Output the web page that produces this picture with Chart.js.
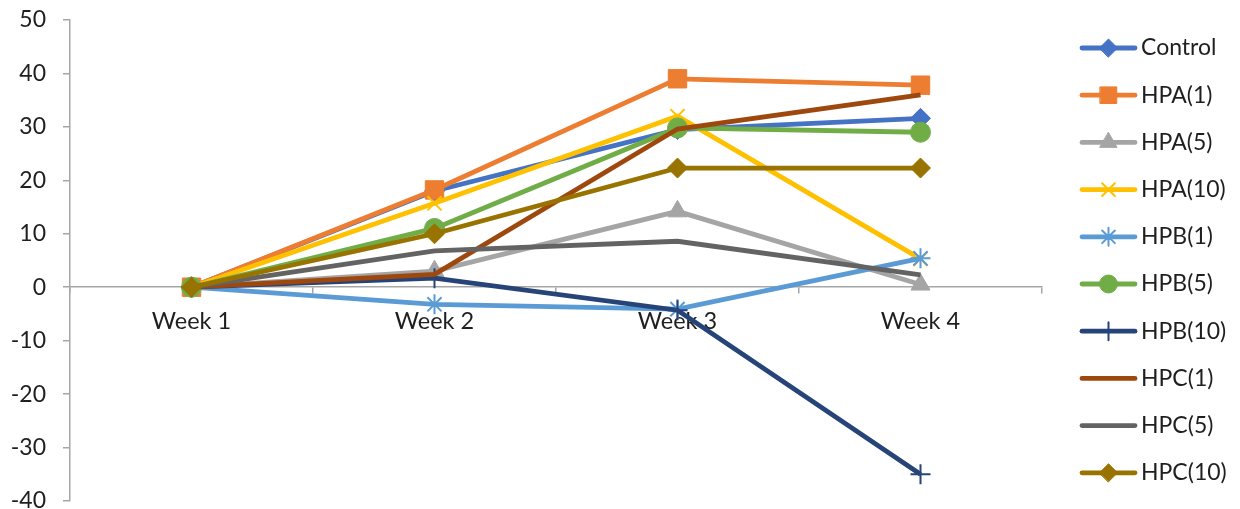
<!DOCTYPE html>
<html>
<head>
<meta charset="utf-8">
<script src="https://cdn.jsdelivr.net/npm/chart.js@4.4.1/dist/chart.umd.min.js"></script>
<style>
  html, body { margin: 0; padding: 0; background: #ffffff; }
  #wrap { width: 1240px; height: 509px; position: relative; }
</style>
</head>
<body>
<div id="wrap"><canvas id="c"></canvas></div>
<script>
const categories = ['Week 1', 'Week 2', 'Week 3', 'Week 4'];
const yTicks = [50, 40, 30, 20, 10, 0, -10, -20, -30, -40];

const seriesNames = ['Control', 'HPA(1)', 'HPA(5)', 'HPA(10)', 'HPB(1)', 'HPB(5)', 'HPB(10)', 'HPC(1)', 'HPC(5)', 'HPC(10)'];

const control = [0, 18, 29.5, 31.6];
const hpa1    = [0, 18.2, 39, 37.8];
const hpa5    = [0, 3, 14.2, 0.5];
const hpa10   = [0, 15.7, 32, 5.3];
const hpb1    = [0, -3.2, -4.1, 5.4];
const hpb5    = [0, 11, 29.8, 29];
const hpb10   = [0, 1.7, -4.3, -35];
const hpc1    = [0, 2.4, 29.6, 36];
const hpc5    = [0, 6.8, 8.6, 2.3];
const hpc10   = [0, 10, 22.3, 22.3];

const seriesValues = [control, hpa1, hpa5, hpa10, hpb1, hpb5, hpb10, hpc1, hpc5, hpc10];

const colors = ['#4472C4', '#ED7D31', '#A5A5A5', '#FFC000', '#5B9BD5', '#70AD47', '#264478', '#9E480E', '#636363', '#997300'];
const markers = ['rectRot', 'rect', 'triangle', 'crossRot', 'star', 'circle', 'cross', false, false, 'rectRot'];
const markerRadius = [10, 13, 11, 10, 10, 10, 10, 0, 0, 10];
const markerBorder = [1, 1, 1, 2, 2, 1, 2, 0, 0, 1];

const FONT = 'Lato, "Open Sans", sans-serif';
const TEXT = '#1f1f1f';
const AXIS = '#A6A6A6';

// markers may overflow the plot area (as in the original); do not shrink the plot for them
Chart.LineController.prototype.getMaxOverflow = function () { return 0; };

const datasets = seriesNames.map((name, i) => ({
  label: name,
  data: seriesValues[i],
  borderColor: colors[i],
  backgroundColor: colors[i],
  borderWidth: 4.8,
  pointStyle: markers[i],
  pointRadius: markerRadius[i],
  pointHoverRadius: markerRadius[i],
  pointBorderWidth: markerBorder[i],
  pointBackgroundColor: colors[i],
  pointBorderColor: colors[i],
  tension: 0,
  order: -i,
  clip: false
}));

const legendPlugin = {
  id: 'excelLegend',
  afterDraw(chart) {
    const ctx = chart.ctx;
    const x0 = 1082, x1 = 1135, top = 48, step = 47.2;
    ctx.save();
    seriesNames.forEach((name, i) => {
      const y = top + i * step;
      ctx.strokeStyle = colors[i];
      ctx.lineWidth = 4.8;
      ctx.lineCap = 'round';
      ctx.beginPath();
      ctx.moveTo(x0, y);
      ctx.lineTo(x1, y);
      ctx.stroke();
      if (markers[i]) {
        ctx.fillStyle = colors[i];
        ctx.strokeStyle = colors[i];
        ctx.lineWidth = markerBorder[i];
        Chart.helpers.drawPoint(ctx, {
          pointStyle: markers[i],
          radius: markerRadius[i] * 0.9,
          borderWidth: markerBorder[i],
          rotation: 0
        }, (x0 + x1) / 2, y);
      }
      ctx.fillStyle = TEXT;
      ctx.font = '23px ' + FONT;
      ctx.textAlign = 'left';
      ctx.textBaseline = 'middle';
      ctx.fillText(name, 1141, y);
    });
    ctx.restore();
  }
};

new Chart(document.getElementById('c'), {
  type: 'line',
  data: { labels: categories, datasets },
  options: {
    responsive: true,
    maintainAspectRatio: false,
    animation: false,
    events: [],
    layout: { padding: { left: 0, right: 198, top: 20, bottom: 8 } },
    plugins: { legend: { display: false }, tooltip: { enabled: false } },
    scales: {
      x: {
        type: 'category',
        position: { y: 0 },
        offset: true,
        grid: { offset: true, drawOnChartArea: false, drawTicks: true, tickLength: 6, tickColor: AXIS, color: AXIS, lineWidth: 1.5 },
        border: { display: true, color: AXIS, width: 1.5 },
        ticks: { color: TEXT, font: { family: FONT, size: 23.5 }, padding: 14, maxRotation: 0, autoSkip: false },
        afterFit(scale) { scale.height = 0; scale.paddingLeft = 0; scale.paddingRight = 0; scale.paddingTop = 0; scale.paddingBottom = 0; }
      },
      y: {
        min: -40,
        max: 50,
        afterBuildTicks(scale) { scale.ticks = yTicks.map(v => ({ value: v })); },
        grid: { drawOnChartArea: false, drawTicks: true, tickLength: 7, tickColor: AXIS, color: AXIS, lineWidth: 1.5 },
        border: { display: true, color: AXIS, width: 1.5 },
        ticks: { color: TEXT, font: { family: FONT, size: 23, lineHeight: 0.5 }, padding: 17 },
        afterFit(scale) { scale.width = 70; scale.paddingTop = 0; scale.paddingBottom = 0; }
      }
    }
  },
  plugins: [legendPlugin]
});
</script>
</body>
</html>
